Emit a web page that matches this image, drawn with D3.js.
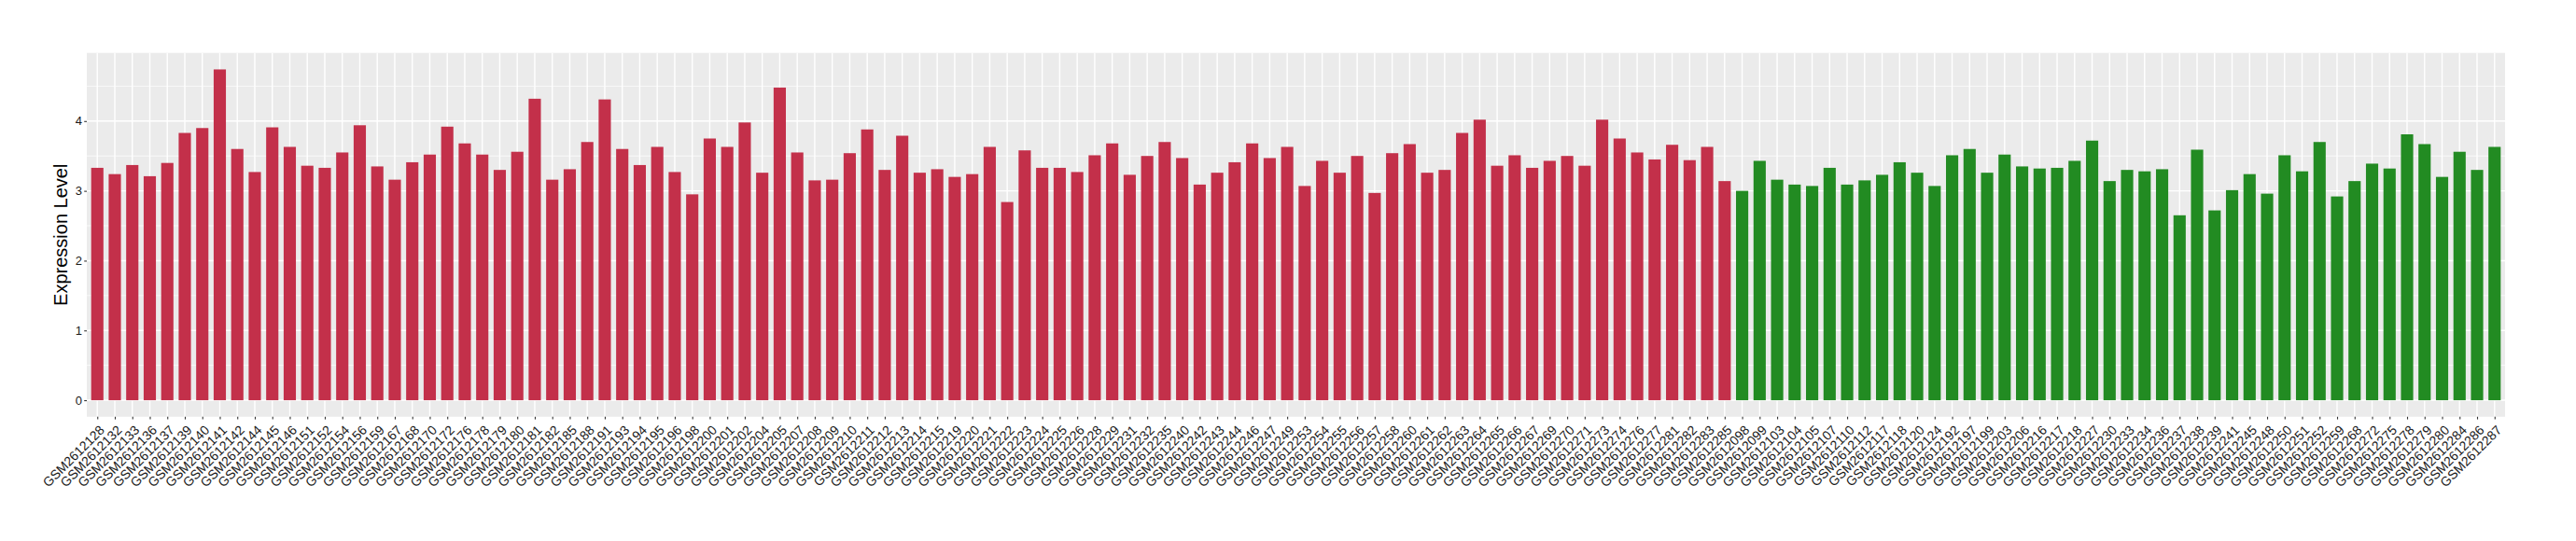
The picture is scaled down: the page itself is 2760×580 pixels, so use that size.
<!DOCTYPE html>
<html>
<head>
<meta charset="utf-8">
<script src="https://cdn.jsdelivr.net/npm/d3@7"></script>
<style>
  html, body { margin: 0; padding: 0; background: #ffffff; }
  svg { display: block; }
  text { font-family: "Liberation Sans", Arial, Helvetica, sans-serif; }
</style>
</head>
<body>
<script>
// ---------------- DATA ----------------
const tumorSamples = [
  "GSM2612128","GSM2612132","GSM2612133","GSM2612136","GSM2612137","GSM2612139","GSM2612140","GSM2612141",
  "GSM2612142","GSM2612144","GSM2612145","GSM2612146","GSM2612151","GSM2612152","GSM2612154","GSM2612156",
  "GSM2612159","GSM2612167","GSM2612168","GSM2612170","GSM2612172","GSM2612176","GSM2612178","GSM2612179",
  "GSM2612180","GSM2612181","GSM2612182","GSM2612185","GSM2612188","GSM2612191","GSM2612193","GSM2612194",
  "GSM2612195","GSM2612196","GSM2612198","GSM2612200","GSM2612201","GSM2612202","GSM2612204","GSM2612205",
  "GSM2612207","GSM2612208","GSM2612209","GSM2612210","GSM2612211","GSM2612212","GSM2612213","GSM2612214",
  "GSM2612215","GSM2612219","GSM2612220","GSM2612221","GSM2612222","GSM2612223","GSM2612224","GSM2612225",
  "GSM2612226","GSM2612228","GSM2612229","GSM2612231","GSM2612232","GSM2612235","GSM2612240","GSM2612242",
  "GSM2612243","GSM2612244","GSM2612246","GSM2612247","GSM2612249","GSM2612253","GSM2612254","GSM2612255",
  "GSM2612256","GSM2612257","GSM2612258","GSM2612260","GSM2612261","GSM2612262","GSM2612263","GSM2612264",
  "GSM2612265","GSM2612266","GSM2612267","GSM2612269","GSM2612270","GSM2612271","GSM2612273","GSM2612274",
  "GSM2612276","GSM2612277","GSM2612281","GSM2612282","GSM2612283","GSM2612285"
];
const tumorValues = [
  3.33,3.24,3.37,3.21,3.40,3.83,3.90,4.74,
  3.60,3.27,3.91,3.63,3.36,3.33,3.55,3.94,
  3.35,3.16,3.41,3.52,3.92,3.68,3.52,3.30,
  3.56,4.32,3.16,3.31,3.70,4.31,3.60,3.37,
  3.63,3.27,2.95,3.75,3.63,3.98,3.26,4.48,
  3.55,3.15,3.16,3.54,3.88,3.30,3.79,3.26,
  3.31,3.20,3.24,3.63,2.84,3.58,3.33,3.33,
  3.27,3.51,3.68,3.23,3.50,3.70,3.47,3.09,
  3.26,3.41,3.68,3.47,3.63,3.07,3.43,3.26,
  3.50,2.97,3.54,3.67,3.26,3.30,3.83,4.02,
  3.36,3.51,3.33,3.43,3.50,3.36,4.02,3.75,
  3.55,3.45,3.66,3.44,3.63,3.14
];
const normalSamples = [
  "GSM2612098","GSM2612099","GSM2612103","GSM2612104","GSM2612105","GSM2612107","GSM2612110","GSM2612112",
  "GSM2612117","GSM2612118","GSM2612120","GSM2612124","GSM2612192","GSM2612197","GSM2612199","GSM2612203",
  "GSM2612206","GSM2612216","GSM2612217","GSM2612218","GSM2612227","GSM2612230","GSM2612233","GSM2612234",
  "GSM2612236","GSM2612237","GSM2612238","GSM2612239","GSM2612241","GSM2612245","GSM2612248","GSM2612250",
  "GSM2612251","GSM2612252","GSM2612259","GSM2612268","GSM2612272","GSM2612275","GSM2612278","GSM2612279",
  "GSM2612280","GSM2612284","GSM2612286","GSM2612287"
];
const normalValues = [
  3.00,3.43,3.16,3.09,3.07,3.33,3.09,3.15,
  3.23,3.41,3.26,3.07,3.51,3.60,3.26,3.52,
  3.35,3.32,3.33,3.43,3.72,3.14,3.30,3.28,
  3.31,2.65,3.59,2.72,3.01,3.24,2.96,3.51,
  3.28,3.70,2.92,3.14,3.39,3.32,3.81,3.67,
  3.20,3.56,3.30,3.63
];
const groupColors = { tumor: "#C3304A", normal: "#228B22" };
const yTicks = [0, 1, 2, 3, 4];
const yMinor = [0.5, 1.5, 2.5, 3.5, 4.5];
const yTitle = "Expression Level";

// ---------------- BUILD ----------------
const data = tumorSamples.map((s, i) => ({ sample: s, value: tumorValues[i], group: "tumor" }))
  .concat(normalSamples.map((s, i) => ({ sample: s, value: normalValues[i], group: "normal" })));

const W = 2760, H = 580;
const panel = { left: 93, right: 2684, top: 56.7, bottom: 446.8 };

const svg = d3.select("body").append("svg").attr("width", W).attr("height", H);

const maxV = d3.max(data, d => d.value);
const y = d3.scaleLinear()
  .domain([-0.05 * maxV, maxV * 1.05])
  .range([panel.bottom, panel.top]);

const x = d3.scalePoint()
  .domain(data.map(d => d.sample))
  .range([panel.left, panel.right])
  .padding(0.6);
const barW = x.step() * 0.7;

// panel background
svg.append("rect")
  .attr("x", panel.left).attr("y", panel.top)
  .attr("width", panel.right - panel.left).attr("height", panel.bottom - panel.top)
  .attr("fill", "#EBEBEB");

// minor y grid
svg.append("g").selectAll("line").data(yMinor).join("line")
  .attr("x1", panel.left).attr("x2", panel.right)
  .attr("y1", d => y(d)).attr("y2", d => y(d))
  .attr("stroke", "#ffffff").attr("stroke-width", 0.7);

// major y grid
svg.append("g").selectAll("line").data(yTicks).join("line")
  .attr("x1", panel.left).attr("x2", panel.right)
  .attr("y1", d => y(d)).attr("y2", d => y(d))
  .attr("stroke", "#ffffff").attr("stroke-width", 1.4);

// major x grid
svg.append("g").selectAll("line").data(data).join("line")
  .attr("x1", d => x(d.sample)).attr("x2", d => x(d.sample))
  .attr("y1", panel.top).attr("y2", panel.bottom)
  .attr("stroke", "#ffffff").attr("stroke-width", 1.4);

// bars
svg.append("g").selectAll("rect").data(data).join("rect")
  .attr("x", d => x(d.sample) - barW / 2)
  .attr("width", barW)
  .attr("y", d => y(d.value))
  .attr("height", d => y(0) - y(d.value))
  .attr("fill", d => groupColors[d.group]);

// y axis
const yAxis = d3.axisLeft(y).tickValues(yTicks).tickSize(2.8).tickPadding(2.3).tickFormat(d3.format("d"));
const gy = svg.append("g").attr("transform", `translate(${panel.left},0)`).call(yAxis);
gy.select(".domain").remove();
gy.selectAll(".tick line").attr("stroke", "#333333").attr("stroke-width", 1.1);
gy.selectAll(".tick text").attr("fill", "#1a1a1a").attr("font-size", 13)
  .attr("font-family", "'Liberation Sans', Arial, sans-serif");

// x axis
const xAxis = d3.axisBottom(x).tickSize(2.8).tickSizeOuter(0);
const gx = svg.append("g").attr("transform", `translate(0,${panel.bottom})`).call(xAxis);
gx.select(".domain").remove();
gx.selectAll(".tick line").attr("stroke", "#333333").attr("stroke-width", 1.1);
gx.selectAll(".tick text")
  .attr("fill", "#1a1a1a")
  .attr("font-size", 14)
  .attr("font-family", "'Liberation Sans', Arial, sans-serif")
  .attr("text-anchor", "end")
  .attr("x", 0).attr("y", 0).attr("dy", "0.72em")
  .attr("transform", "translate(1,8) rotate(-45)");

// y title
svg.append("text")
  .attr("transform", `translate(${65 + 7},${(panel.top + panel.bottom) / 2}) rotate(-90)`)
  .attr("text-anchor", "middle")
  .attr("font-size", 20)
  .attr("fill", "#000000")
  .text(yTitle);
</script>
</body>
</html>
